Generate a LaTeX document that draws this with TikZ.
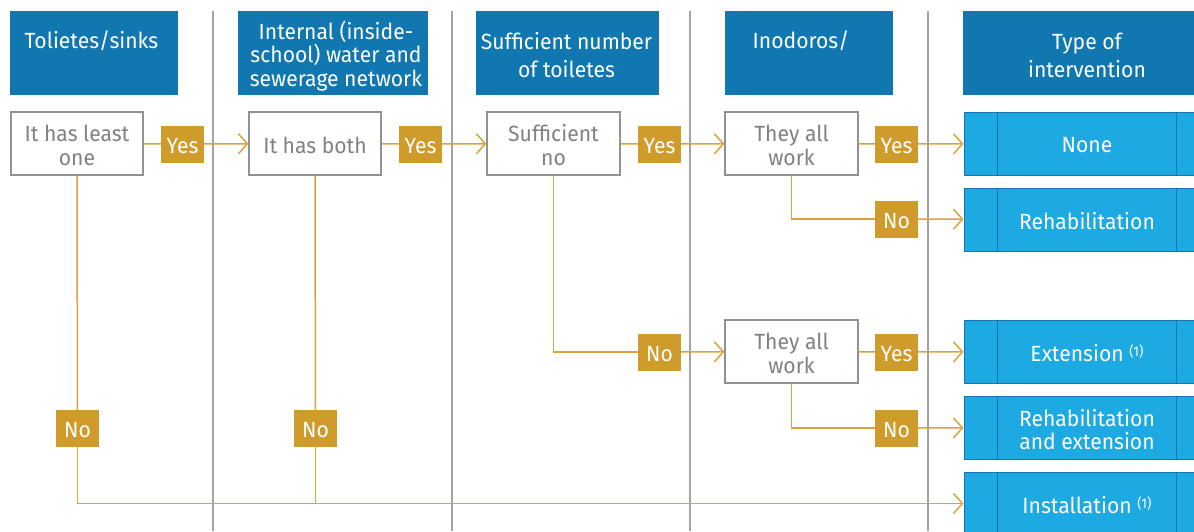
\documentclass[tikz,border=0pt]{standalone}
\usepackage{fontspec}
\setmainfont{Fira Sans}[FakeStretch=0.96]
\usetikzlibrary{arrows.meta}
\definecolor{hblue}{HTML}{1077B0}
\definecolor{rblue}{HTML}{1DA9E1}
\definecolor{rborder}{HTML}{1873AD}
\definecolor{gold}{HTML}{CF9B2B}
\definecolor{gline}{HTML}{D9A440}
\definecolor{dgrey}{HTML}{8E9398}
\definecolor{dtext}{HTML}{7D8287}
\definecolor{divgrey}{HTML}{A3A3A3}
\newcommand\myfont{\fontsize{22}{24}\selectfont}
\newcommand\mysup[1]{\raisebox{5pt}{\fontsize{14}{14}\selectfont #1}}
\newcommand\dn[1]{\raisebox{-2pt}[\height][\depth]{#1}}
\tikzset{
  hdr/.style={fill=hblue, draw=none, inner sep=0pt, minimum height=84pt},
  htxt/.style={text=white, font=\myfont, align=center, inner sep=0pt},
  dec/.style={draw=dgrey, line width=1.2pt, fill=white, text=dtext, font=\myfont, align=center, inner sep=0pt, minimum height=63pt},
  res/.style={fill=rblue, draw=rborder, line width=1pt, text=white, font={\fontsize{22}{23}\selectfont}, align=center, inner sep=0pt, minimum width=246pt, minimum height=63pt},
  lbl/.style={fill=gold, text=white, font=\myfont, inner sep=0pt, minimum width=43pt, minimum height=37pt},
  conn/.style={draw=gline, line width=1.5pt},
  arr/.style={conn, -{Straight Barb[length=9pt,width=20pt]}},
  divider/.style={draw=divgrey, line width=1.5pt},
  inner/.style={draw=rborder, line width=1pt}
}
\begin{document}
\begin{tikzpicture}[x=1pt,y=-1pt]
\useasboundingbox (0,0) rectangle (1194,531);
\clip (0,0) rectangle (1194,531);
\fill[white] (0,0) rectangle (1194,531);
% dividers
\foreach \xx in {213,452,690,928} \draw[divider] (\xx,11) -- (\xx,531);
% headers
\node[hdr, minimum width=168pt] (h1) at (94,53) {};
\node[hdr, minimum width=190pt] (h2) at (333,53) {};
\node[hdr, minimum width=183pt] (h3) at (567.5,53) {};
\node[hdr, minimum width=168pt] (h4) at (809,53) {};
\node[hdr, minimum width=247pt] (h5) at (1086.5,53) {};
\node[htxt, anchor=base] (t1) at (91.5,48) {Tolietes/sinks};
\node[htxt, font={\fontsize{22}{23.5}\selectfont}] (t2) at (336,56) {Internal (inside-\\school) water and\\sewerage network};
\node[htxt, font={\fontsize{22}{28}\selectfont}] (t3) at (566.5,55) {Sufficient number\\of toiletes};
\node[htxt, anchor=base] (t4) at (801,48) {Inodoros/};
\node[htxt, font={\fontsize{22}{28}\selectfont}] (t5) at (1087,55) {Type of\\intervention};
% decisions
\node[dec, minimum width=132pt] (d1) at (77,143.5) {\dn{It has least}\\\dn{one}};
\node[dec, minimum width=132pt] (d2) at (315,143.5) {\dn{It has both}};
\node[dec, minimum width=133pt] (d3) at (553.5,143.5) {\dn{Sufficient}\\\dn{no}};
\node[dec, minimum width=133pt] (d4) at (791.5,143.5) {\dn{They all}\\\dn{work}};
\node[dec, minimum width=133pt] (d5) at (791.5,351.5) {\dn{They all}\\\dn{work}};
% results
\node[res] (r1) at (1087,143.5) {\dn{None}};
\node[res] (r2) at (1087,219.5) {\dn{Rehabilitation}};
\node[res] (r3) at (1087,351.5) {\dn{Extension \mysup{(1)}}};
\node[res] (r4) at (1087,427.5) {\dn{Rehabilitation}\\\dn{and extension}};
\node[res] (r5) at (1087,503.5) {\dn{Installation \mysup{(1)}}};
\foreach \r in {r1,r2,r3,r4,r5}{
  \draw[inner] ([xshift=34pt]\r.north west) -- ([xshift=34pt]\r.south west);
  \draw[inner] ([xshift=89pt]\r.north) -- ([xshift=89pt]\r.south);
}
% labels
\node[lbl] (y1) at (182.5,144) {\dn{Yes}};
\node[lbl] (y2) at (420.5,144) {\dn{Yes}};
\node[lbl] (y3) at (659.5,144) {\dn{Yes}};
\node[lbl] (y4) at (896.5,144) {\dn{Yes}};
\node[lbl] (y5) at (896.5,352) {\dn{Yes}};
\node[lbl] (n1) at (77.5,428.5) {\dn{No}};
\node[lbl] (n2) at (315.5,428.5) {\dn{No}};
\node[lbl] (n3) at (659.5,352) {\dn{No}};
\node[lbl] (n4) at (896.5,219) {\dn{No}};
\node[lbl] (n5) at (896.5,428) {\dn{No}};
% connectors
\draw[conn] (d1) -- (y1); \draw[arr] (y1) -- (d2);
\draw[conn] (d2) -- (y2); \draw[arr] (y2) -- (d3);
\draw[conn] (d3) -- (y3); \draw[arr] (y3) -- (d4);
\draw[conn] (d4) -- (y4); \draw[arr] (y4) -- (r1);
\draw[conn] (d4.south) |- (n4); \draw[arr] (n4) -- (r2);
\draw[conn] (d3.south) |- (n3); \draw[arr] (n3) -- (d5);
\draw[conn] (d5) -- (y5); \draw[arr] (y5) -- (r3);
\draw[conn] (d5.south) |- (n5); \draw[arr] (n5) -- (r4);
\draw[conn] (d1.south) -- (n1); \draw[arr] (n1.south) |- (r5.west);
\draw[conn] (d2.south) -- (n2); \draw[conn] (n2.south) -- (n2.south |- r5.west);
\end{tikzpicture}
\end{document}
